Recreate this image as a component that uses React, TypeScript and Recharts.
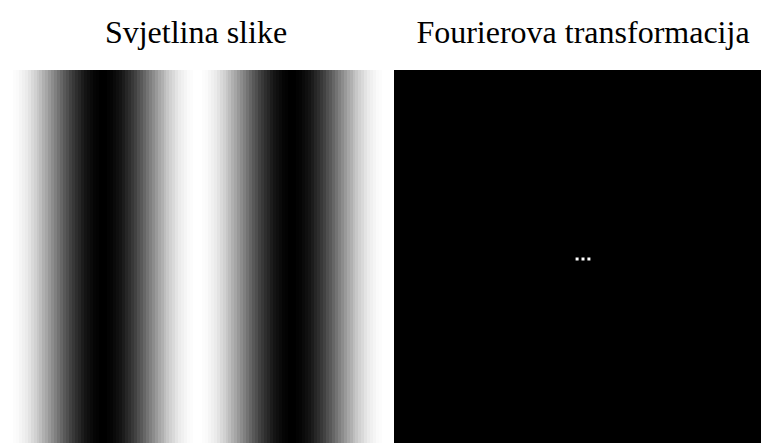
import { BarChart, Bar, Cell, XAxis, YAxis, ScatterChart, Scatter, ReferenceArea } from "recharts";

// brightness of each pixel column of the left image (0 = black, 1 = white)
const columns = [
  1.0, 1.0, 0.99, 0.98, 0.96, 0.94, 0.92, 0.89, 0.85, 0.82, 0.78, 0.74, 0.69, 0.65, 0.6, 0.55,
  0.5, 0.45, 0.4, 0.35, 0.31, 0.26, 0.22, 0.18, 0.15, 0.11, 0.08, 0.06, 0.04, 0.02, 0.01, 0.0,
  0.0, 0.0, 0.01, 0.02, 0.04, 0.06, 0.08, 0.11, 0.15, 0.18, 0.22, 0.26, 0.31, 0.35, 0.4, 0.45,
  0.5, 0.55, 0.6, 0.65, 0.69, 0.74, 0.78, 0.82, 0.85, 0.89, 0.92, 0.94, 0.96, 0.98, 0.99, 1.0,
  1.0, 1.0, 0.99, 0.98, 0.96, 0.94, 0.92, 0.89, 0.85, 0.82, 0.78, 0.74, 0.69, 0.65, 0.6, 0.55,
  0.5, 0.45, 0.4, 0.35, 0.31, 0.26, 0.22, 0.18, 0.15, 0.11, 0.08, 0.06, 0.04, 0.02, 0.01, 0.0,
  0.0, 0.0, 0.01, 0.02, 0.04, 0.06, 0.08, 0.11, 0.15, 0.18, 0.22, 0.26, 0.31, 0.35, 0.4, 0.45,
  0.5, 0.55, 0.6, 0.65, 0.69, 0.74, 0.78, 0.82, 0.85, 0.89, 0.92, 0.94, 0.96, 0.98, 0.99, 1.0,
];

// non-zero frequency bins of the (shifted) Fourier transform
const peakKx = [-2, 0, 2];
const peakKy = [0, 0, 0];

const titles = ["Svjetlina slike", "Fourierova transformacija"];

const SIZE = 378;

const imageData = columns.map((b, i) => ({ col: i, v: 1, b }));
const peaks = peakKx.map((kx, i) => ({ kx, ky: peakKy[i] }));

function gray(b: number) {
  const c = Math.round(b * 255);
  return `rgb(${c},${c},${c})`;
}

// eslint-disable-next-line @typescript-eslint/no-explicit-any
function Pixel(props: any) {
  const { cx, cy } = props;
  return <rect x={cx - 1.5} y={cy - 1.5} width={3} height={3} fill="#fff" />;
}

const titleStyle: React.CSSProperties = {
  position: "absolute",
  top: 16,
  width: SIZE,
  textAlign: "center",
  fontFamily: "'Liberation Serif', 'Times New Roman', serif",
  fontSize: 32,
  lineHeight: "32px",
  color: "#000",
};

export default function App() {
  return (
    <div style={{ position: "absolute", left: 0, top: 0, width: 761, height: 443, overflow: "hidden", background: "#fff" }}>
      <div style={{ ...titleStyle, left: 7 }}>{titles[0]}</div>
      <div style={{ ...titleStyle, left: 394 }}>{titles[1]}</div>

      <div style={{ position: "absolute", left: 7, top: 70 }}>
        <BarChart width={SIZE} height={SIZE} data={imageData} margin={{ top: 0, right: 0, left: 0, bottom: 0 }} barCategoryGap={0} barGap={0}>
          <XAxis dataKey="col" hide />
          <YAxis hide domain={[0, 1]} />
          <Bar dataKey="v" isAnimationActive={false}>
            {imageData.map((d) => (
              <Cell key={d.col} fill={gray(d.b)} shapeRendering="crispEdges" />
            ))}
          </Bar>
        </BarChart>
      </div>

      <div style={{ position: "absolute", left: 394, top: 70 }}>
        <ScatterChart width={SIZE} height={SIZE} margin={{ top: 0, right: 0, left: 0, bottom: 0 }}>
          <XAxis type="number" dataKey="kx" domain={[-64, 64]} hide />
          <YAxis type="number" dataKey="ky" domain={[-64, 64]} hide />
          <ReferenceArea x1={-64} x2={64} y1={-64} y2={64} fill="#000" fillOpacity={1} stroke="none" ifOverflow="visible" />
          <Scatter data={peaks} shape={<Pixel />} isAnimationActive={false} />
        </ScatterChart>
      </div>
    </div>
  );
}
